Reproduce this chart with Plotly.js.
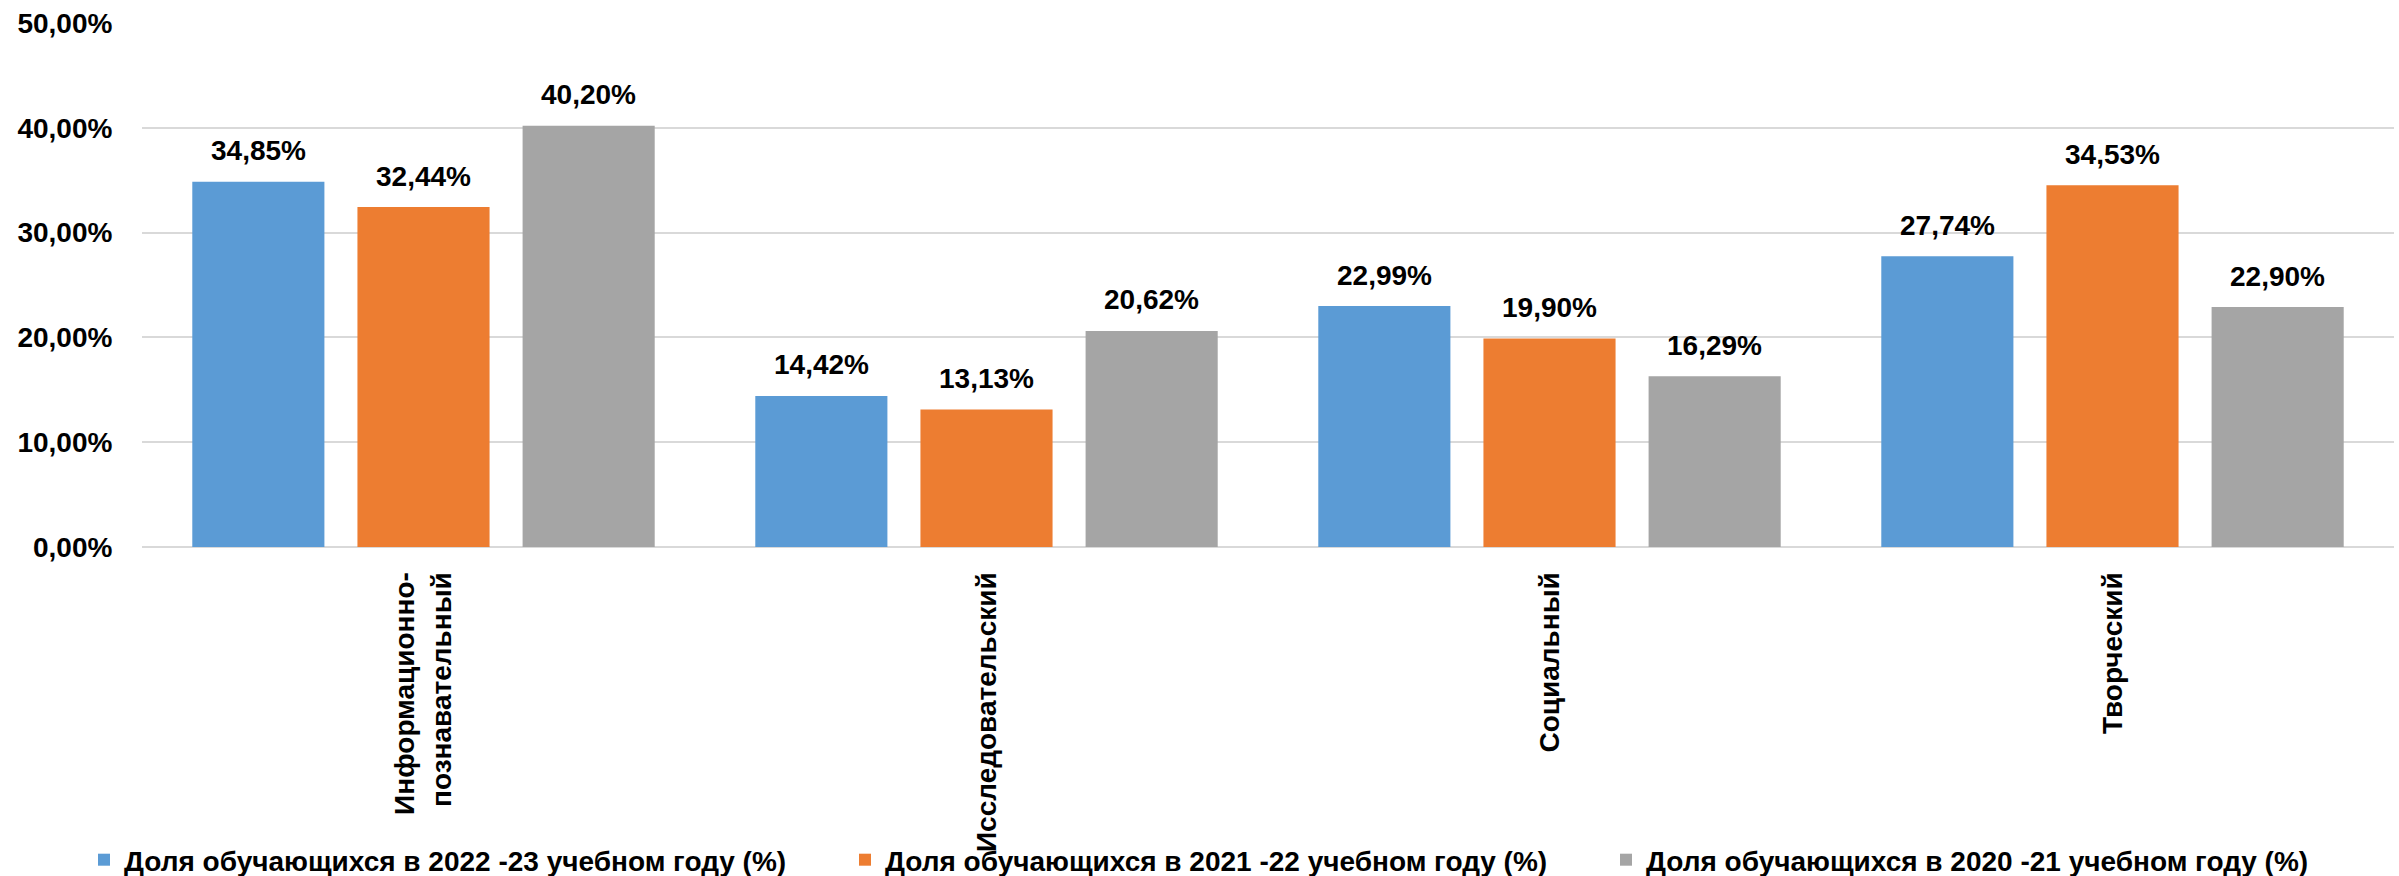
<!DOCTYPE html>
<html>
<head>
<meta charset="utf-8">
<script src="https://cdn.plot.ly/plotly-3.0.1.min.js"></script>
<style>html,body{margin:0;padding:0;background:#fff;}#chart{width:2399px;height:876px;}</style>
</head>
<body>
<div id="chart"></div>
<script>
const categories = ["Информационно-<br>познавательный", "Исследовательский", "Социальный", "Творческий"];
const seriesNames = [
  "Доля обучающихся в 2022 -23 учебном году (%)",
  "Доля обучающихся в 2021 -22 учебном году (%)",
  "Доля обучающихся в 2020 -21 учебном году (%)"
];
const values2022 = [34.85, 14.42, 22.99, 27.74];
const values2021 = [32.44, 13.13, 19.90, 34.53];
const values2020 = [40.20, 20.62, 16.29, 22.90];
const yTicks = [0, 10, 20, 30, 40, 50];

const colors = ["#5B9BD5", "#ED7D31", "#A5A5A5"];
const allValues = [values2022, values2021, values2020];
const legendIds = ["legend", "legend2", "legend3"];
const legendLeftPx = [84, 845, 1606];
const FONT = "Liberation Sans, Arial, sans-serif";

const W = 2399, H = 876;
const margin = {l: 142, r: 5, t: 23, b: 329, pad: 0};
const bargap = 0.12;
const plotW = W - margin.l - margin.r;
const slotPx = plotW / categories.length * (1 - bargap) / allValues.length;

const fmt = v => v.toFixed(2).replace(".", ",") + "%";
const boldFont = {family: FONT, size: 28, color: "#000", weight: "bold"};

const traces = allValues.map((vals, i) => ({
  type: "bar",
  name: seriesNames[i],
  x: categories,
  y: vals,
  marker: {color: colors[i]},
  legend: legendIds[i],
  hoverinfo: "skip"
}));

const annotations = [];
allValues.forEach((vals, i) => {
  vals.forEach((v, j) => {
    annotations.push({
      x: categories[j], y: v, xref: "x", yref: "y",
      text: fmt(v), showarrow: false,
      xshift: (i - 1) * slotPx, yshift: 31,
      yanchor: "middle", xanchor: "center",
      font: boldFont
    });
  });
});

const layout = {
  width: W, height: H,
  margin: margin,
  paper_bgcolor: "#fff", plot_bgcolor: "#fff",
  barmode: "group",
  bargap: bargap,
  bargroupgap: 0.2,
  separators: ", ",
  font: boldFont,
  showlegend: true,
  xaxis: {
    type: "category",
    tickangle: -90,
    ticks: "outside", ticklen: 13, tickcolor: "rgba(0,0,0,0)",
    showgrid: false, showline: false, zeroline: false,
    tickfont: boldFont
  },
  yaxis: {
    range: [0, 50],
    tickvals: yTicks,
    ticktext: yTicks.map(fmt),
    ticks: "outside", ticklen: 23, tickcolor: "rgba(0,0,0,0)",
    showgrid: true, gridcolor: "#D9D9D9", gridwidth: 2,
    zeroline: true, zerolinecolor: "#D9D9D9", zerolinewidth: 2,
    showline: false,
    tickfont: boldFont
  },
  annotations: annotations
};

legendIds.forEach((id, i) => {
  layout[id] = {
    orientation: "h",
    xref: "container", yref: "container",
    x: legendLeftPx[i] / W, y: 1 - 860 / H,
    xanchor: "left", yanchor: "middle",
    bgcolor: "rgba(0,0,0,0)",
    font: boldFont
  };
});

Plotly.newPlot("chart", traces, layout, {displayModeBar: false, staticPlot: true});
</script>
</body>
</html>
